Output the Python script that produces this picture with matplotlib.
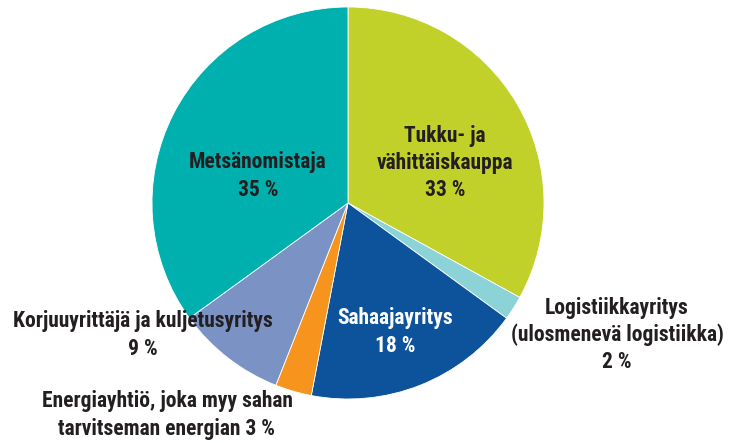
import matplotlib
matplotlib.use("Agg")
import matplotlib.pyplot as plt
from matplotlib import font_manager

labels = ["Tukku- ja\nvähittäiskauppa", "Logistiikkayritys\n(ulosmenevä logistiikka)", "Sahaajayritys",
          "Energiayhtiö, joka myy sahan\ntarvitseman energian", "Korjuuyrittäjä ja kuljetusyritys", "Metsänomistaja"]
values = [33, 2, 18, 3, 9, 35]
colors = ["#c2d12a", "#8bd3d6", "#0d539c", "#f7941e", "#7b92c4", "#00b0ae"]

fams = set(f.name for f in font_manager.fontManager.ttflist)
cands = ["Roboto Condensed", "Archivo Narrow", "Asap Condensed", "Barlow Semi Condensed", "Liberation Sans Narrow"]
chosen = next((c for c in cands if c in fams), "DejaVu Sans")
family = [chosen, "DejaVu Sans"]

W, H = 736, 443
fig = plt.figure(figsize=(W / 100, H / 100), dpi=100)
ax = fig.add_axes([0, 0, 1, 1])

cx, cy, r = 348, H - 203, 196
ax.pie(values, colors=colors, startangle=90, counterclock=False, center=(cx, cy), radius=r,
       wedgeprops=dict(edgecolor="white", linewidth=0.6), frame=True)
ax.set_xlim(0, W)
ax.set_ylim(0, H)
ax.set_aspect("equal")
ax.axis("off")

dark = "#231f20"
fs = 15.5
kw = dict(ha="center", va="center", fontsize=fs, fontweight="bold", family=family, linespacing=1.3)

def txt(x, y, s, c=dark):
    ax.text(x, H - y, s, color=c, **kw)

txt(445, 163, f"{labels[0]}\n{values[0]} %")
txt(258, 176, f"{labels[5]}\n{values[5]} %")
txt(395, 332, f"{labels[2]}\n{values[2]} %", "white")
txt(617, 335, f"{labels[1]}\n{values[1]} %")
txt(143, 335, f"{labels[4]}\n{values[4]} %")
txt(167, 415, f"{labels[3]} {values[3]} %")

fig.savefig("out.png", dpi=100)
